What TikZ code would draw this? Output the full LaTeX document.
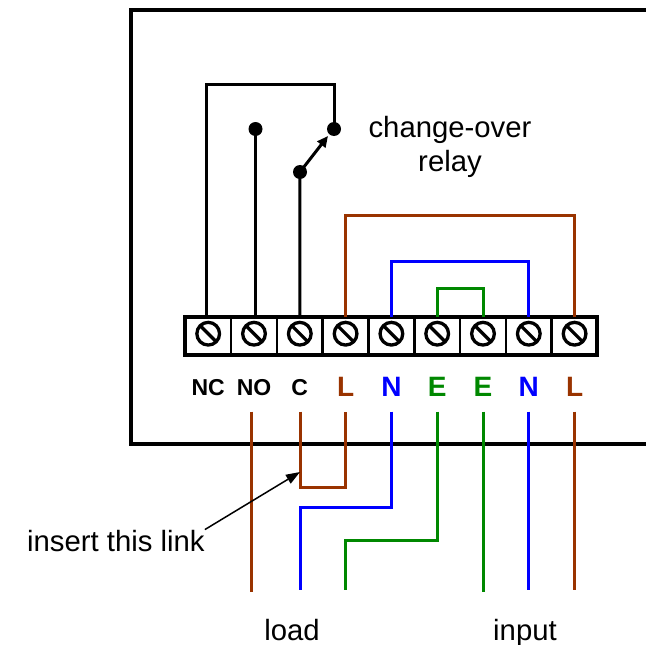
\documentclass[tikz,border=0pt]{standalone}
\usepackage{fontspec}
\setmainfont{Liberation Sans}
\usetikzlibrary{arrows.meta}
\definecolor{wbrown}{RGB}{153,51,0}
\definecolor{wblue}{RGB}{0,0,255}
\definecolor{wgreen}{RGB}{0,136,0}
\begin{document}
\begin{tikzpicture}[x=1pt,y=-1pt,
  wire/.style={line width=3pt},
  boxline/.style={line width=4pt},
  divider/.style={line width=2.5pt},
  screw/.style={circle,draw,line width=3.3pt,minimum size=22.7pt,inner sep=0pt},
  slash/.style={line width=3.3pt},
  cellnode/.style={rectangle,minimum width=45.8pt,minimum height=38.5pt,inner sep=0pt},
  relaydot/.style={circle,fill,minimum size=14pt,inner sep=0pt},
  smalllab/.style={font=\bfseries\fontsize{23}{23}\selectfont,anchor=base},
  biglab/.style={font=\bfseries\fontsize{28}{28}\selectfont,anchor=base},
  txt/.style={font=\fontsize{29.3}{34}\selectfont,align=center}]
\useasboundingbox (0,0) rectangle (646,645);
\clip (0,0) rectangle (646,645);

% enclosure
\coordinate (encTR) at (660,9.5);
\coordinate (encTL) at (130.5,9.5);
\coordinate (encBL) at (130.5,444);
\coordinate (encBR) at (660,444);
\draw[boxline] (encTR) -- (encTL) -- (encBL) -- (encBR);

% terminal cells and screws
\foreach \i/\x in {1/208.2,2/254,3/299.8,4/345.6,5/391.4,6/437.2,7/483,8/528.8,9/574.6}{
  \node[cellnode] (cell\i) at (\x,336.2) {};
  \node[screw] (scr\i) at (\x,333.7) {};
  \draw[slash] ([shift={(-7.6,-7.6)}]scr\i.center) -- ([shift={(7.6,7.6)}]scr\i.center);
  \coordinate (top\i) at (\x,317);
  \coordinate (bot\i) at (\x,411.5);
}
\foreach \k in {1,...,8}{
  \pgfmathsetmacro{\dx}{185.3+45.8*\k}
  \draw[divider] (\dx,317) -- (\dx,355.4);
}
\coordinate (blkTL) at (185.3,317);
\coordinate (blkBR) at (597.2,355.4);
\draw[boxline] (blkTL) rectangle (blkBR);

% labels
\node[smalllab] (labNC) at (208.2,395) {NC};
\node[smalllab] (labNO) at (254,395) {NO};
\node[smalllab] (labC) at (299.8,395) {C};
\node[biglab,text=wbrown] (labL1) at (345.6,396) {L};
\node[biglab,text=wblue] (labN1) at (391.4,396) {N};
\node[biglab,text=wgreen] (labE1) at (437.2,396) {E};
\node[biglab,text=wgreen] (labE2) at (483,396) {E};
\node[biglab,text=wblue] (labN2) at (528.8,396) {N};
\node[biglab,text=wbrown] (labL2) at (574.6,396) {L};

% relay
\node[relaydot] (dotNC) at (334,129) {};
\node[relaydot] (dotNO) at (255.5,129) {};
\node[relaydot] (dotC) at (300,172) {};
\coordinate (ncA) at (206,84);
\coordinate (ncB) at (334,84);
\coordinate (ncT) at (206,317);
\coordinate (noT) at (255.5,317);
\draw[wire] (ncT) -- (ncA) -- (ncB) -- (dotNC.center);
\draw[wire] (noT) -- (dotNO.center);
\draw[wire] (top3) -- (dotC.center);
\coordinate (armtip) at (328,136);
\draw[wire,-{Triangle[length=11pt,width=10pt]}] (dotC.center) -- (armtip);
\node[txt] (relaytxt) at (450,147) {change-over\\relay};

% internal links above block
\coordinate (brA) at (345.6,215);
\coordinate (brB) at (574.6,215);
\draw[wire,wbrown] (top4) -- (brA) -- (brB) -- (top9);
\coordinate (blA) at (391.4,261);
\coordinate (blB) at (528.8,261);
\draw[wire,wblue] (top5) -- (blA) -- (blB) -- (top8);
\coordinate (grA) at (437.2,288.5);
\coordinate (grB) at (483,288.5);
\draw[wire,wgreen] (top6) -- (grA) -- (grB) -- (top7);

% external wiring below block
\coordinate (noB) at (251,411.5);
\coordinate (noE) at (251,592);
\draw[wire,wbrown] (noB) -- (noE);
\coordinate (lkA) at (300.3,487);
\coordinate (lkB) at (345.6,487);
\coordinate (cB) at (300.3,411.5);
\draw[wire,wbrown] (cB) -- (lkA) -- (lkB) -- (bot4);
\coordinate (nA) at (391.4,507);
\coordinate (nB) at (300.3,507);
\coordinate (nE) at (300.3,590);
\draw[wire,wblue] (bot5) -- (nA) -- (nB) -- (nE);
\coordinate (eA) at (437.2,540);
\coordinate (eB) at (345.6,540);
\coordinate (eE) at (345.6,590);
\draw[wire,wgreen] (bot6) -- (eA) -- (eB) -- (eE);
\coordinate (e2E) at (483,592);
\draw[wire,wgreen] (bot7) -- (e2E);
\coordinate (n2E) at (528.8,590);
\draw[wire,wblue] (bot8) -- (n2E);
\coordinate (l2E) at (574.6,590);
\draw[wire,wbrown] (bot9) -- (l2E);

% annotation
\node[txt,anchor=base west,inner sep=0pt] (instxt) at (27,551) {insert this link};
\coordinate (insTip) at (300,472);
\draw[line width=1.5pt,-{Triangle[length=14pt,width=10pt]}] (instxt.north east) -- (insTip);

\node[txt,anchor=base] (loadtxt) at (292,640) {load};
\node[txt,anchor=base] (inputtxt) at (525,640) {input};
\end{tikzpicture}
\end{document}
